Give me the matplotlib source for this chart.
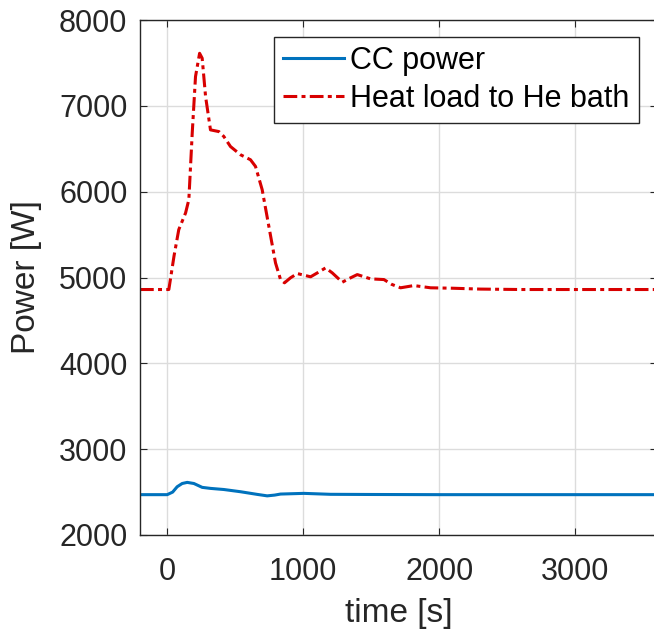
import matplotlib
matplotlib.use("Agg")
import matplotlib.pyplot as plt

plt.rcParams['font.family'] = ['Liberation Sans', 'DejaVu Sans']

# CC power (blue)
t_cc = [-200, 0, 40, 73, 110, 147, 196, 230, 257, 318, 416, 539, 662, 735, 790, 833,
        1004, 1201, 1500, 2000, 2500, 3000, 3600]
p_cc = [2470, 2470, 2500, 2562, 2600, 2613, 2600, 2575, 2555, 2543, 2530, 2504, 2473,
        2456, 2465, 2477, 2485, 2474, 2472, 2470, 2470, 2470, 2470]

# heat load to He bath (red)
t_hl = [-200, 0, 12, 50, 85, 135, 159, 184, 208, 238, 257, 282, 318, 380, 416, 465,
        539, 612, 649, 698, 747, 796, 833, 862, 906, 956, 1054, 1110, 1164, 1213,
        1287, 1340, 1397, 1495, 1593, 1650, 1715, 1813, 1936, 2100, 2300, 2600,
        3000, 3300, 3600]
p_hl = [4860, 4860, 4860, 5250, 5558, 5752, 5907, 6686, 7341, 7612, 7555, 7108, 6720,
        6700, 6643, 6526, 6430, 6372, 6294, 6023, 5596, 5170, 4976, 4938, 4996,
        5046, 5008, 5060, 5112, 5054, 4945, 4990, 5034, 4984, 4976, 4920, 4880,
        4906, 4880, 4875, 4865, 4860, 4860, 4860, 4860]

fig = plt.figure(figsize=(6.54, 6.38), dpi=100)
ax = fig.add_axes([140/654, 103/638, 517/654, 515/638])

ax.plot(t_cc, p_cc, color='#0072BD', lw=2.2, label='CC power')
ax.plot(t_hl, p_hl, color='#d80000', lw=2.2, dashes=(4.5, 1.4, 1.3, 1.4),
        label='Heat load to He bath')

ax.set_xlim(-200, 3600)
ax.set_ylim(2000, 8000)
ax.set_xticks([0, 1000, 2000, 3000])
ax.set_yticks([2000, 3000, 4000, 5000, 6000, 7000, 8000])
ax.grid(True, color='#dcdcdc', lw=1.0)
ax.set_axisbelow(True)
ax.tick_params(direction='in', top=True, right=True, labelsize=22, length=5,
               colors='#262626')
ax.tick_params(axis='x', pad=16)
ax.tick_params(axis='y', pad=9)
for s in ax.spines.values():
    s.set_color('#262626')
    s.set_linewidth(1.0)

ax.set_xlabel('time [s]', fontsize=24, color='#262626', labelpad=8)
ax.set_ylabel('Power [W]', fontsize=24, color='#262626', labelpad=12)

leg = ax.legend(loc='upper right', bbox_to_anchor=(0.965, 0.967), borderaxespad=0,
                fontsize=22, fancybox=False, framealpha=1, edgecolor='#262626',
                handlelength=2.0, handletextpad=0.2, borderpad=0.3, labelspacing=0.25)
leg.get_frame().set_linewidth(1.0)

fig.savefig('out.png', dpi=100)
